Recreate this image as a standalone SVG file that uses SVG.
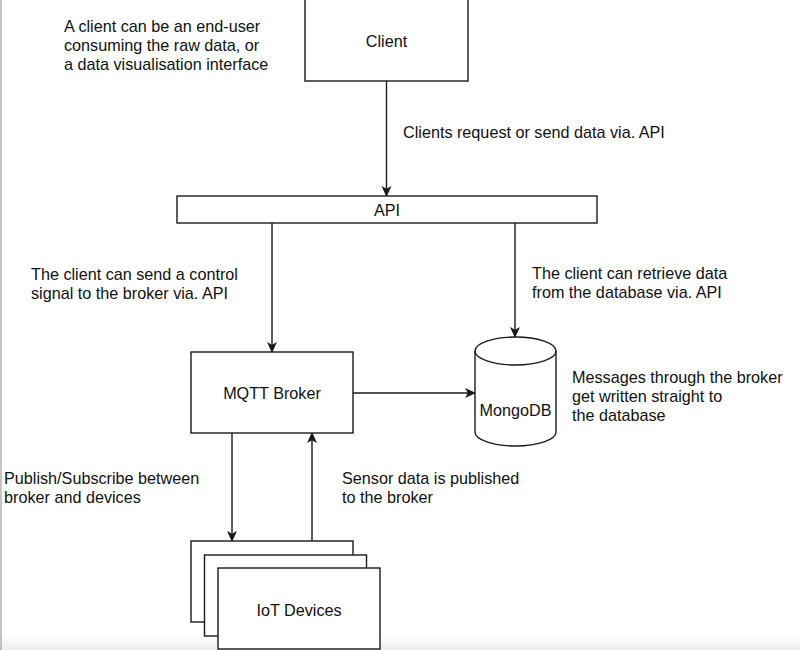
<svg xmlns="http://www.w3.org/2000/svg" width="800" height="650" viewBox="0 0 800 650">
<style>
.box{fill:#fff;stroke:#1a1a1a;stroke-width:1.4}
.edge{fill:none;stroke:#1a1a1a;stroke-width:1.4}
text{font-family:"Liberation Sans",Arial,Helvetica,sans-serif;font-size:16.2px;fill:#111}
.c{text-anchor:middle}
</style>
<defs>
<marker id="arr" viewBox="0 0 10 10" refX="9" refY="5" markerWidth="11" markerHeight="11" markerUnits="userSpaceOnUse" orient="auto">
<path d="M0,0.5 L10,5 L0,9.5 L2.5,5 Z" fill="#1a1a1a"/>
</marker>
<linearGradient id="fade" x1="0" y1="0" x2="0" y2="1">
<stop offset="0" stop-color="#fff"/>
<stop offset="1" stop-color="#ececec"/>
</linearGradient>
</defs>
<rect x="0" y="0" width="800" height="650" fill="#fff"/>
<rect x="0" y="636" width="800" height="14" fill="url(#fade)"/>
<line x1="1" y1="0" x2="1" y2="650" stroke="#b0b0b0" stroke-width="1.5"/>

<g id="connectors">
<line class="edge" x1="386.5" y1="81" x2="386.5" y2="196" marker-end="url(#arr)"/>
<line class="edge" x1="272" y1="223" x2="272" y2="352" marker-end="url(#arr)"/>
<line class="edge" x1="515" y1="223" x2="515" y2="337" marker-end="url(#arr)"/>
<line class="edge" x1="353" y1="393" x2="475" y2="393" marker-end="url(#arr)"/>
<line class="edge" x1="232" y1="433" x2="232" y2="541" marker-end="url(#arr)"/>
<line class="edge" x1="312" y1="541" x2="312" y2="433" marker-end="url(#arr)"/>
</g>

<g id="client">
<rect class="box" x="305" y="-1" width="163" height="82"/>
<text class="c" x="386.5" y="47">Client</text>
</g>

<g id="api">
<rect class="box" x="177" y="196" width="420" height="27"/>
<text class="c" x="387" y="216">API</text>
</g>

<g id="mqtt">
<rect class="box" x="191" y="352" width="162" height="81"/>
<text class="c" x="272" y="399">MQTT Broker</text>
</g>

<g id="mongodb">
<path class="box" d="M475,351 A40.5,14 0 0 1 556,351 L556,432 A40.5,14 0 0 1 475,432 Z"/>
<path class="edge" d="M475,351 A40.5,14 0 0 0 556,351"/>
<text class="c" x="515.5" y="416">MongoDB</text>
</g>

<g id="iot">
<rect class="box" x="191" y="541" width="162" height="81"/>
<rect class="box" x="204.5" y="555" width="162" height="81"/>
<rect class="box" x="218" y="568" width="162" height="81"/>
<text class="c" x="299" y="616">IoT Devices</text>
</g>

<g id="labels">
<text x="64" y="32">A client can be an end-user</text>
<text x="64" y="51">consuming the raw data, or</text>
<text x="64" y="70">a data visualisation interface</text>
<text x="403" y="138">Clients request or send data via. API</text>
<text x="31" y="280">The client can send a control</text>
<text x="31" y="299">signal to the broker via. API</text>
<text x="532" y="279">The client can retrieve data</text>
<text x="532" y="298">from the database via. API</text>
<text x="572" y="383">Messages through the broker</text>
<text x="572" y="402">get written straight to</text>
<text x="572" y="421">the database</text>
<text x="4" y="484">Publish/Subscribe between</text>
<text x="4" y="503">broker and devices</text>
<text x="342" y="484">Sensor data is published</text>
<text x="342" y="503">to the broker</text>
</g>
</svg>
